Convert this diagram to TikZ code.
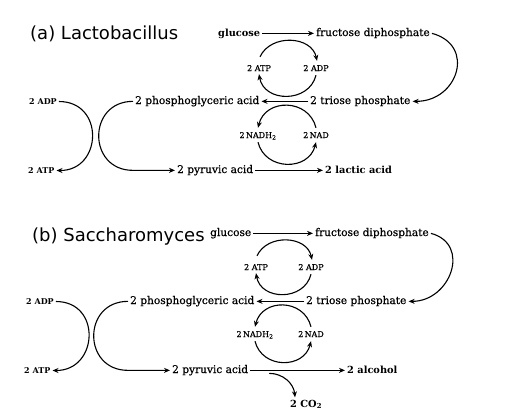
\documentclass[tikz,border=0pt]{standalone}
\usepackage{fontspec}
\setmainfont{DejaVu Serif}
\newfontfamily\medserif{DejaVu Serif}[FakeBold=0.6]
\newfontfamily\ttlfont{DejaVu Sans}
\usetikzlibrary{arrows.meta,calc}
\begin{document}
\begin{tikzpicture}[x=1pt,y=-1pt,
 arr/.style={line width=1.1pt,-{Stealth[length=6pt,width=5pt]}},
 lbl/.style={font=\medserif\fontsize{10.6}{12}\selectfont, anchor=base west, inner xsep=2pt, inner ysep=0pt, text height=7.5pt, text depth=2.2pt},
 blbl/.style={lbl, font=\rmfamily\fontsize{9.8}{12}\selectfont\bfseries},
 sm/.style={font=\medserif\fontsize{8}{9}\selectfont, anchor=base, inner sep=0pt, text height=6pt, text depth=1pt},
 smw/.style={sm, font=\rmfamily\fontsize{8}{9}\selectfont\bfseries, anchor=base west, inner xsep=2pt},
 ttl/.style={font=\ttlfont\fontsize{18}{20}\selectfont, anchor=base west, inner sep=0pt}]
\useasboundingbox[fill=white] (0,0) rectangle (530,416);
% ---------- panel (a)
\node[ttl] (ta) at (30,39) {(a) Lactobacillus};
\node[blbl] (glu) at (216,36) {glucose};
\node[lbl] (fru) at (314,36) {fructose diphosphate};
\node[lbl] (tp) at (308,104) {2 triose phosphate};
\node[lbl] (pga) at (133,104) {2 phosphoglyceric acid};
\node[lbl] (pyr) at (175,173) {2 pyruvic acid};
\node[blbl] (lac) at (323,173) {2 lactic acid};
\node[smw] (adpL) at (27,104) {2 ADP};
\node[smw] (atpL) at (26,173) {2 ATP};
\node[sm] (atp) at (259,71) {2 ATP};
\node[sm] (adp) at (316,71) {2 ADP};
\node[sm] (nadh) at (258,138) {2\,NADH\textsubscript{2}};
\node[sm] (nad) at (316,138) {2\,NAD};
\draw[arr] (glu.east) -- (glu.east -| fru.west);
\draw[arr] (tp.west) -- (tp.west -| pga.east);
\draw[arr] (pyr.east) -- (pyr.east -| lac.west);
\draw[arr] (fru.east) to[out=-15,in=0,looseness=1.65] (tp.east);
\draw[arr] (adpL.east) to[out=0,in=0,looseness=1.7] (atpL.east);
\draw[arr] (pga.west) to[out=180,in=180,looseness=1.7] (pga.west |- pyr.west) -- (pyr.west);
\draw[arr] ([xshift=1pt,yshift=8pt]atp.north) to[out=65,in=102,looseness=1.15] ([xshift=1pt,yshift=4pt]adp.north);
\draw[arr] ([yshift=-3pt]adp.south) to[out=-104,in=-80,looseness=1.3] ([yshift=-2pt]atp.south);
\draw[arr] ([yshift=4pt]nad.north) to[out=104,in=76,looseness=1.35] ([yshift=4pt]nadh.north);
\draw[arr] ([yshift=-3pt]nadh.south) to[out=-76,in=-104,looseness=1.32] ([yshift=-3pt]nad.south);
% ---------- panel (b)
\node[ttl] (tb) at (32,241) {(b) Saccharomyces};
\node[lbl] (glub) at (208,236) {glucose};
\node[lbl] (frub) at (313,236) {fructose diphosphate};
\node[lbl] (tpb) at (304,304) {2 triose phosphate};
\node[lbl] (pgab) at (128,304) {2 phosphoglyceric acid};
\node[lbl] (pyrb) at (170,373) {2 pyruvic acid};
\node[blbl] (alc) at (345,373) {2 alcohol};
\node[blbl, inner xsep=0pt] (co2) at (290,407) {2 CO\textsubscript{2}};
\node[smw] (adpLb) at (24,304) {2 ADP};
\node[smw] (atpLb) at (22,373) {2 ATP};
\node[sm] (atpb) at (256,270) {2 ATP};
\node[sm] (adpb) at (311,270) {2 ADP};
\node[sm] (nadhb) at (255,337) {2\,NADH\textsubscript{2}};
\node[sm] (nadb) at (311,337) {2\,NAD};
\draw[arr] (glub.east) -- (glub.east -| frub.west);
\draw[arr] (tpb.west) -- (tpb.west -| pgab.east);
\draw[arr] (pyrb.east) -- (pyrb.east -| alc.west);
\draw[arr] (frub.east) to[out=-15,in=0,looseness=1.5] (tpb.east);
\draw[arr] (adpLb.east) to[out=0,in=0,looseness=1.7] (atpLb.east);
\draw[arr] (pgab.west) to[out=180,in=180,looseness=1.7] (pgab.west |- pyrb.west) -- (pyrb.west);
\draw[arr] ([xshift=1pt,yshift=8pt]atpb.north) to[out=65,in=102,looseness=1.15] ([xshift=1pt,yshift=4pt]adpb.north);
\draw[arr] ([yshift=-3pt]adpb.south) to[out=-104,in=-80,looseness=1.3] ([yshift=-2pt]atpb.south);
\draw[arr] ([yshift=4pt]nadb.north) to[out=104,in=76,looseness=1.35] ([yshift=4pt]nadhb.north);
\draw[arr] ([yshift=-3pt]nadhb.south) to[out=-76,in=-104,looseness=1.32] ([yshift=-3pt]nadb.south);
\coordinate (br) at ([yshift=-3pt]$(pyrb.east)!0.2!(alc.west)$);
\draw[arr] (br) to[out=0,in=95] ([xshift=5pt,yshift=2pt]co2.north west);
\end{tikzpicture}
\end{document}
